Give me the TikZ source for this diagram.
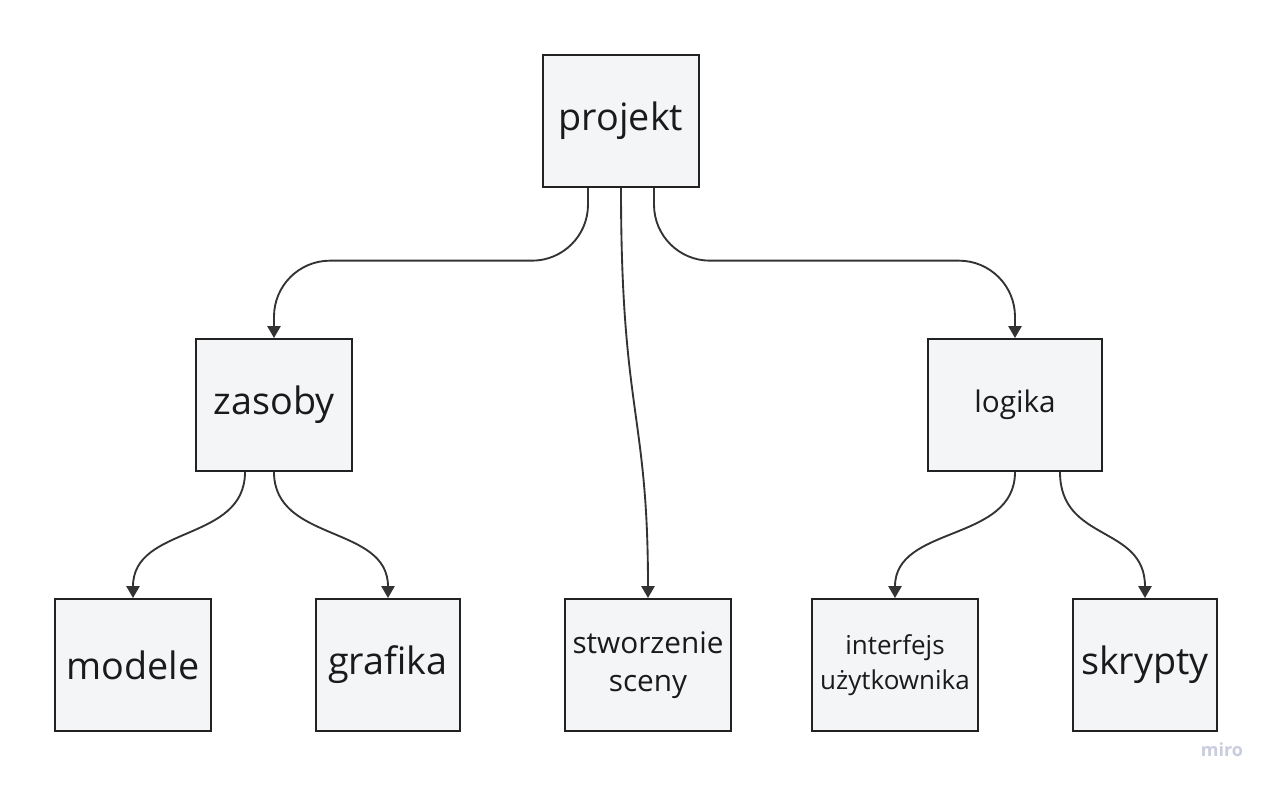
\documentclass[tikz,border=0pt]{standalone}
\usepackage{fontspec}
\setmainfont{Open Sans}
\usetikzlibrary{arrows.meta,calc}
\definecolor{boxfill}{HTML}{F4F5F7}
\definecolor{boxline}{HTML}{222222}
\definecolor{txt}{HTML}{1A1A1A}
\definecolor{conncol}{HTML}{333333}
\definecolor{mirocol}{HTML}{C9CCDD}
\begin{document}
\begin{tikzpicture}[x=0.75pt,y=-0.75pt,
  box/.style={draw=boxline,fill=boxfill,line width=1.5pt,minimum height=99pt,
    inner sep=0pt,align=center,text=txt},
  bigtxt/.style={font=\fontsize{28.3}{34}\selectfont},
  midtxt/.style={font=\fontsize{22.3}{29}\selectfont},
  smalltxt/.style={font=\fontsize{19.5}{26}\selectfont},
  conn/.style={draw=conncol,line width=1.4pt,-{Triangle[length=9pt,width=10pt]}}]
\useasboundingbox (0,0) rectangle (1272,786);
\fill[white] (0,0) rectangle (1272,786);

\node[box,bigtxt,minimum width=117pt] (projekt) at (621,121) {projekt};
\node[box,bigtxt,minimum width=117pt] (zasoby) at (274,405) {zasoby};
\node[box,midtxt,minimum width=130.5pt] (logika) at (1015,405) {logika};
\node[box,bigtxt,minimum width=117pt] (modele) at (133,665) {modele};
\node[box,bigtxt,minimum width=108pt] (grafika) at (388,665) {grafika};
\node[box,midtxt,minimum width=124.5pt] (scena) at (648,665) {stworzenie\\sceny};
\node[box,smalltxt,minimum width=124.5pt] (interfejs) at (895,665) {interfejs\\użytkownika};
\node[box,bigtxt,minimum width=108pt] (skrypty) at (1145,665) {skrypty};

\node[text=mirocol,font=\fontsize{13.5}{15}\selectfont\bfseries] (miro) at (1222,750) {miro};

\draw[conn,rounded corners=42pt] ([xshift=-24.75pt]projekt.south) |- ([yshift=58pt]zasoby.north) -- (zasoby.north);
\draw[conn,rounded corners=42pt] ([xshift=24.75pt]projekt.south) |- ([yshift=58pt]logika.north) -- (logika.north);
\draw[conn] (projekt.south) .. controls ([yshift=-170pt]projekt.south) and ([yshift=140pt]scena.north) .. (scena.north);

\draw[conn] ([xshift=-21.75pt]zasoby.south) .. controls ([xshift=-21.75pt,yshift=-53pt]zasoby.south) and ([yshift=55pt]modele.north) .. (modele.north);
\draw[conn] (zasoby.south) .. controls ([yshift=-53pt]zasoby.south) and ([yshift=55pt]grafika.north) .. (grafika.north);
\draw[conn] (logika.south) .. controls ([yshift=-53pt]logika.south) and ([yshift=55pt]interfejs.north) .. (interfejs.north);
\draw[conn] ([xshift=33.75pt]logika.south) .. controls ([xshift=33.75pt,yshift=-53pt]logika.south) and ([yshift=55pt]skrypty.north) .. (skrypty.north);
\end{tikzpicture}
\end{document}
